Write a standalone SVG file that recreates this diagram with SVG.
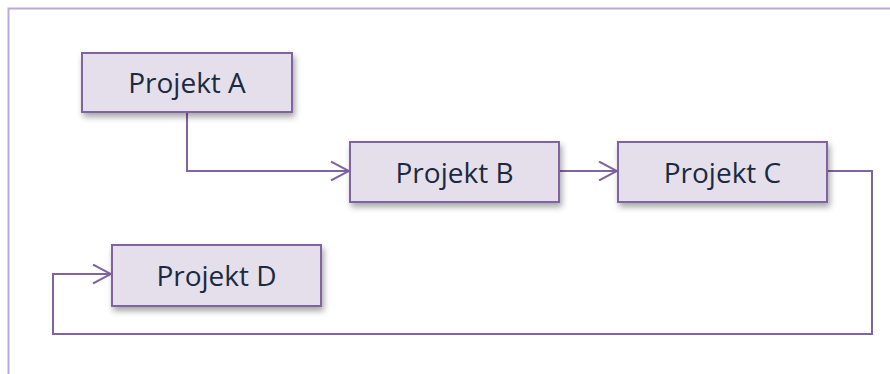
<svg xmlns="http://www.w3.org/2000/svg" width="890" height="374" viewBox="0 0 890 374">
  <defs>
    <filter id="shadow" x="-10%" y="-20%" width="130%" height="160%">
      <feDropShadow dx="2" dy="4" stdDeviation="3" flood-color="#000" flood-opacity="0.35"/>
    </filter>
    <marker id="chevron" viewBox="0 0 20 20" refX="19" refY="10" markerWidth="20" markerHeight="20" markerUnits="userSpaceOnUse" orient="auto">
      <polyline points="1,0.5 19,10 1,19.5" fill="none" stroke="#8064A2" stroke-width="2"/>
    </marker>
  </defs>
  <style>
    .frame { fill: none; stroke: #BBA9D3; stroke-width: 2; }
    .box { fill: #E5DFEC; stroke: #8064A2; stroke-width: 2; filter: url(#shadow); }
    .label { font-family: "Open Sans", "Liberation Sans", sans-serif; font-size: 28px; fill: #1B2A41; text-anchor: middle; }
    .link { fill: none; stroke: #8064A2; stroke-width: 2; }
  </style>
  <rect width="890" height="374" fill="#fff"/>
  <!-- outer frame: top and left edges -->
  <polyline class="frame" points="8.5,374 8.5,8.5 890,8.5"/>

  <g id="connectors">
    <polyline class="link" points="187,112 187,171 349,171" marker-end="url(#chevron)"/>
    <line class="link" x1="559" y1="171" x2="617" y2="171" marker-end="url(#chevron)"/>
    <polyline class="link" points="827,171 872,171 872,334 53,334 53,274 111,274" marker-end="url(#chevron)"/>
  </g>

  <g id="projekt-a">
    <rect class="box" x="82" y="53" width="210" height="59"/>
    <text class="label" x="187" y="93">Projekt A</text>
  </g>
  <g id="projekt-b">
    <rect class="box" x="350" y="142" width="209" height="60"/>
    <text class="label" x="454.5" y="183">Projekt B</text>
  </g>
  <g id="projekt-c">
    <rect class="box" x="618" y="142" width="209" height="60"/>
    <text class="label" x="722.5" y="183">Projekt C</text>
  </g>
  <g id="projekt-d">
    <rect class="box" x="112" y="245" width="209" height="61"/>
    <text class="label" x="216.5" y="286">Projekt D</text>
  </g>
</svg>
